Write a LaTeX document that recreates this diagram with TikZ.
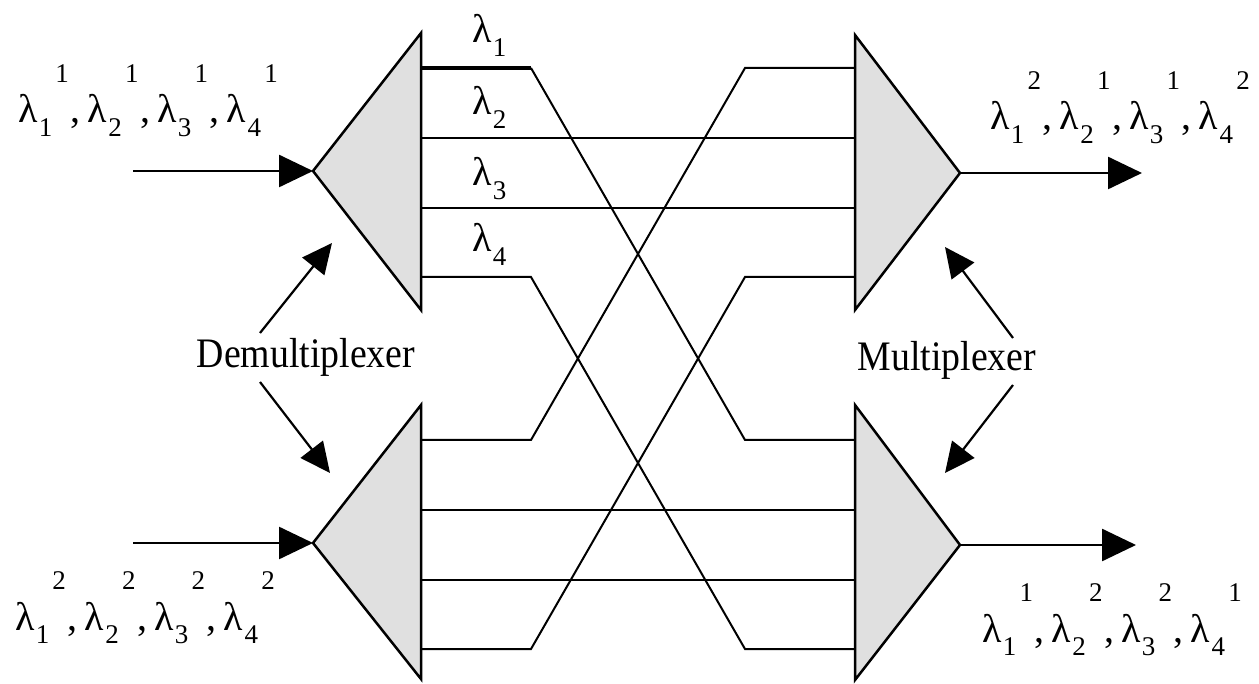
\documentclass[tikz,border=0pt]{standalone}
\usepackage{fontspec}
\setmainfont{Liberation Serif}
\usetikzlibrary{arrows.meta}

% wavelength labels: lambda with subscript index and raised channel number
\newcommand{\subsz}{\fontsize{27}{27}\selectfont}
\newcommand{\wl}[1]{λ\hspace{0.03em}\raisebox{-0.34em}{\subsz #1}}
\newcommand{\wlc}[2]{\wl{#1}\hspace{0.08em}\raisebox{1.02em}{\subsz #2}}
\newcommand{\wsep}{\hspace{0.04em},\hspace{0.18em}}
\newcommand{\wlist}[8]{\wlc{#1}{#2}\wsep\wlc{#3}{#4}\wsep\wlc{#5}{#6}\wsep\wlc{#7}{#8}}

\tikzset{
  tri/.style={draw, line width=2.5pt, fill=black!12, line join=miter},
  fib/.style={line width=2pt},
  fibthick/.style={line width=4pt},
  bigarrow/.style={line width=2.6pt, -{Triangle[length=34pt,width=32pt]}},
  ptr/.style={line width=2.2pt, -{Triangle[length=30pt,width=28pt]}},
  lab/.style={inner sep=0pt, font=\fontsize{42}{48}\selectfont},
  sig/.style={inner sep=0pt, font=\fontsize{40}{46}\selectfont},
}

\begin{document}
\begin{tikzpicture}[x=1pt, y=-1pt]
  \useasboundingbox (0,0) rectangle (1259,684);

  % ---- demultiplexers (left) ----
  \coordinate (daA) at (313,171); \coordinate (daT) at (421,33);  \coordinate (daB) at (421,310);
  \coordinate (dbA) at (313,543); \coordinate (dbT) at (421,405); \coordinate (dbB) at (421,679);
  % ---- multiplexers (right) ----
  \coordinate (maA) at (960,173); \coordinate (maT) at (855,35);  \coordinate (maB) at (855,310);
  \coordinate (mbA) at (960,545); \coordinate (mbT) at (855,405); \coordinate (mbB) at (855,680);

  \draw[tri] (daA) -- (daT) -- (daB) -- cycle;
  \draw[tri] (dbA) -- (dbT) -- (dbB) -- cycle;
  \draw[tri] (maA) -- (maT) -- (maB) -- cycle;
  \draw[tri] (mbA) -- (mbT) -- (mbB) -- cycle;

  % ports and bend points
  \foreach \i/\y in {1/68,2/138,3/208,4/277}{
    \coordinate (da\i) at (421,\y); \coordinate (ma\i) at (855,\y);
    \coordinate (daK\i) at (531,\y); \coordinate (maK\i) at (745,\y);
  }
  \foreach \i/\y in {1/440,2/510,3/580,4/649}{
    \coordinate (db\i) at (421,\y); \coordinate (mb\i) at (855,\y);
    \coordinate (dbK\i) at (531,\y); \coordinate (mbK\i) at (745,\y);
  }

  % straight-through channels
  \draw[fib] (da2) -- (ma2);
  \draw[fib] (da3) -- (ma3);
  \draw[fib] (db2) -- (mb2);
  \draw[fib] (db3) -- (mb3);
  % crossing channels
  \draw[fibthick] (da1) -- (daK1);
  \draw[fib] (daK1) -- (mbK1) -- (mb1);
  \draw[fib] (da4) -- (daK4) -- (mbK4) -- (mb4);
  \draw[fib] (db1) -- (dbK1) -- (maK1) -- (ma1);
  \draw[fib] (db4) -- (dbK4) -- (maK4) -- (ma4);

  % inputs and outputs
  \coordinate (inAs) at (133,171);  \coordinate (inBs) at (133,543);
  \coordinate (outAe) at (1142,173); \coordinate (outBe) at (1136,545);
  \draw[bigarrow] (inAs) -- (daA);
  \draw[bigarrow] (inBs) -- (dbA);
  \draw[bigarrow] (maA) -- (outAe);
  \draw[bigarrow] (mbA) -- (outBe);

  % channel labels
  \node[sig, anchor=base west] (l1) at (472,43)  {\wl{1}};
  \node[sig, anchor=base west] (l2) at (472,115) {\wl{2}};
  \node[sig, anchor=base west] (l3) at (472,186) {\wl{3}};
  \node[sig, anchor=base west] (l4) at (472,252) {\wl{4}};

  % signal labels
  \node[sig, anchor=base west] (inA)  at (18,123)  {\wlist{1}{1}{2}{1}{3}{1}{4}{1}};
  \node[sig, anchor=base west] (inB)  at (15,630)  {\wlist{1}{2}{2}{2}{3}{2}{4}{2}};
  \node[sig, anchor=base west] (outA) at (990,130) {\wlist{1}{2}{2}{1}{3}{1}{4}{2}};
  \node[sig, anchor=base west] (outB) at (982,642) {\wlist{1}{1}{2}{2}{3}{2}{4}{1}};

  % device names with pointers
  \node[lab, anchor=base] (demux) at (306,368) {\scalebox{0.9}[1]{Demultiplexer}};
  \node[lab, anchor=base] (mux)   at (947,371) {\scalebox{0.9}[1]{Multiplexer}};

  \coordinate (dmS1) at (260,333); \coordinate (dmT1) at (332,243);
  \coordinate (dmS2) at (260,382); \coordinate (dmT2) at (330,473);
  \coordinate (mxS1) at (1013,338); \coordinate (mxT1) at (945,247);
  \coordinate (mxS2) at (1013,385); \coordinate (mxT2) at (945,473);
  \draw[ptr] (dmS1) -- (dmT1);
  \draw[ptr] (dmS2) -- (dmT2);
  \draw[ptr] (mxS1) -- (mxT1);
  \draw[ptr] (mxS2) -- (mxT2);
\end{tikzpicture}
\end{document}
